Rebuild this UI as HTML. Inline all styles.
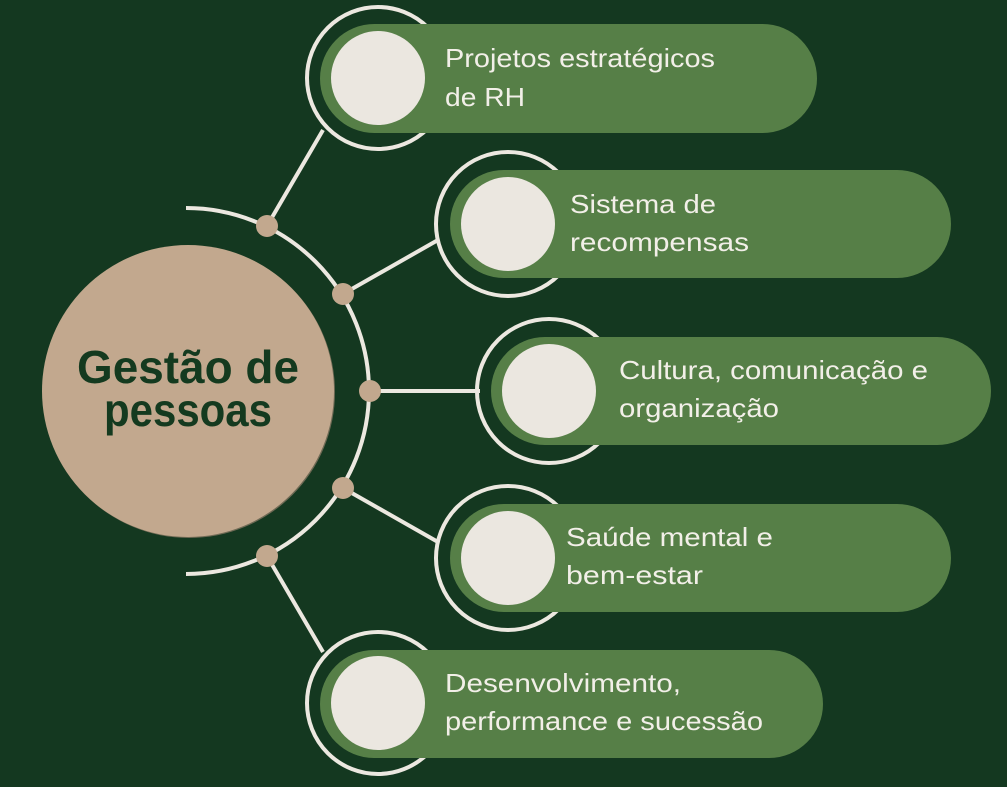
<!DOCTYPE html>
<html><head><meta charset="utf-8"><style>
html,body{margin:0;padding:0;background:#143820;}
svg{display:block}
text{font-family:"Liberation Sans",sans-serif}
</style></head><body>
<svg width="1007" height="787" viewBox="0 0 1007 787" xmlns="http://www.w3.org/2000/svg">
<rect width="1007" height="787" fill="#143820"/>
<g stroke="#ece8e0" stroke-width="4" fill="none">
<path d="M186 208 A183 183 0 0 1 186 574"/>
<line x1="267" y1="226" x2="323" y2="130"/>
<line x1="343" y1="294" x2="438" y2="240"/>
<line x1="370" y1="391" x2="480" y2="391"/>
<line x1="343" y1="488" x2="438" y2="542"/>
<line x1="267" y1="556" x2="323" y2="652"/>
<circle cx="378" cy="78" r="71"/>
<circle cx="508" cy="224" r="72"/>
<circle cx="549" cy="391" r="72"/>
<circle cx="508" cy="558" r="72"/>
<circle cx="378" cy="703" r="71"/>
</g>
<g fill="#c2a88e">
<circle cx="267" cy="226" r="11"/>
<circle cx="343" cy="294" r="11"/>
<circle cx="370" cy="391" r="11"/>
<circle cx="343" cy="488" r="11"/>
<circle cx="267" cy="556" r="11"/>
</g>
<circle cx="189" cy="392" r="146" fill="#6f6a55"/>
<circle cx="188" cy="391" r="146" fill="#c2a88e"/>
<text x="188" y="383" text-anchor="middle" font-size="46" font-weight="bold" fill="#143a1f" textLength="222" lengthAdjust="spacingAndGlyphs">Gestão de</text>
<text x="188" y="426" text-anchor="middle" font-size="46" font-weight="bold" fill="#143a1f" textLength="168" lengthAdjust="spacingAndGlyphs">pessoas</text>
<g fill="#567f47">
<rect x="320" y="24" width="497" height="109" rx="54.5"/>
<rect x="450" y="170" width="501" height="108" rx="54"/>
<rect x="491" y="337" width="500" height="108" rx="54"/>
<rect x="450" y="504" width="501" height="108" rx="54"/>
<rect x="320" y="650" width="503" height="108" rx="54"/>
</g>
<g fill="#ebe7e0">
<circle cx="378" cy="78" r="47"/>
<circle cx="508" cy="224" r="47"/>
<circle cx="549" cy="391" r="47"/>
<circle cx="508" cy="558" r="47"/>
<circle cx="378" cy="703" r="47"/>
</g>
<g fill="#f2efe8" font-size="26" lengthAdjust="spacingAndGlyphs">
<text x="445" y="67" textLength="270" lengthAdjust="spacingAndGlyphs">Projetos estratégicos</text>
<text x="445" y="106" textLength="80" lengthAdjust="spacingAndGlyphs">de RH</text>
<text x="570" y="213" textLength="146" lengthAdjust="spacingAndGlyphs">Sistema de</text>
<text x="570" y="251" textLength="179" lengthAdjust="spacingAndGlyphs">recompensas</text>
<text x="619" y="379" textLength="309" lengthAdjust="spacingAndGlyphs">Cultura, comunicação e</text>
<text x="619" y="417" textLength="160" lengthAdjust="spacingAndGlyphs">organização</text>
<text x="566" y="546" textLength="207" lengthAdjust="spacingAndGlyphs">Saúde mental e</text>
<text x="566" y="584" textLength="137" lengthAdjust="spacingAndGlyphs">bem-estar</text>
<text x="445" y="692" textLength="236" lengthAdjust="spacingAndGlyphs">Desenvolvimento,</text>
<text x="445" y="730" textLength="318" lengthAdjust="spacingAndGlyphs">performance e sucessão</text>
</g>
</svg>
</body></html>
